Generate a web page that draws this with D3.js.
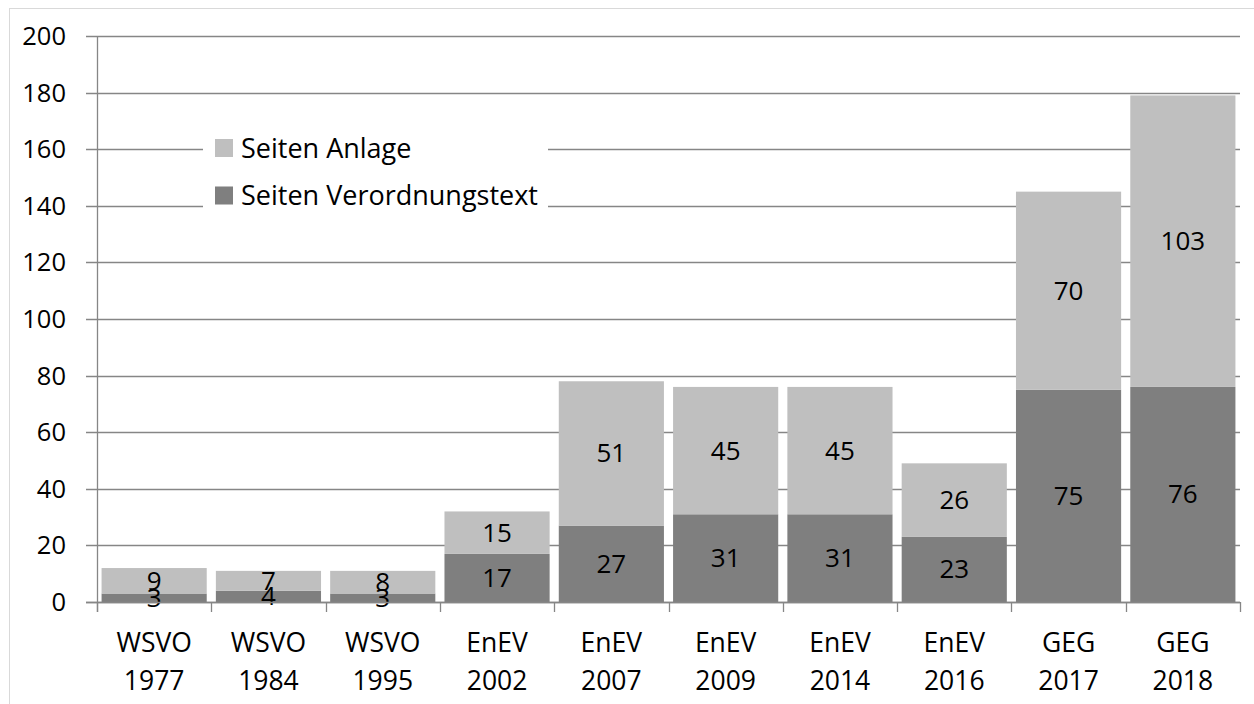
<!DOCTYPE html>
<html><head><meta charset="utf-8">
<script src="https://cdn.jsdelivr.net/npm/d3@7/dist/d3.min.js"></script>
<style>body{margin:0;background:#fff;}svg{display:block;font-family:"Open Sans",sans-serif;}</style>
</head><body>
<svg id="c" width="1254" height="704"></svg>
<script>
const categories = [["WSVO","1977"],["WSVO","1984"],["WSVO","1995"],["EnEV","2002"],["EnEV","2007"],["EnEV","2009"],["EnEV","2014"],["EnEV","2016"],["GEG","2017"],["GEG","2018"]];
const verordnung = [3,4,3,17,27,31,31,23,75,76];
const anlage = [9,7,8,15,51,45,45,26,70,103];
const yTicks = [0,20,40,60,80,100,120,140,160,180,200];
const seriesNames = ["Seiten Anlage","Seiten Verordnungstext"];

(function(){
const svg = d3.select("#c");
const colDark = "#7f7f7f", colLight = "#bfbfbf", gridCol = "#868686";
const pLeft = 97, pRight = 1240, pTop = 36, pBottom = 602;

svg.append("rect").attr("x",9.5).attr("y",8.5).attr("width",1250).attr("height",705)
  .attr("fill","#fff").attr("stroke","#d9d9d9");

const keys = categories.map(c => c.join(" "));
const x = d3.scaleBand().domain(keys).range([pLeft,pRight]).paddingInner(0.08).paddingOuter(0.04);
const y = d3.scaleLinear().domain([0,200]).range([pBottom,pTop]);

svg.append("g").selectAll("line").data(yTicks).join("line")
  .attr("x1",86).attr("x2",pRight).attr("y1",d=>Math.round(y(d))+0.5).attr("y2",d=>Math.round(y(d))+0.5)
  .attr("stroke",gridCol).attr("stroke-width",1.3);

svg.append("g").selectAll("text").data(yTicks).join("text")
  .attr("x",66).attr("y",d=>y(d)+9).attr("text-anchor","end")
  .attr("font-size",25.5).attr("fill","#000").text(d=>d);

svg.append("line").attr("x1",pLeft+0.5).attr("x2",pLeft+0.5).attr("y1",pTop).attr("y2",pBottom+10)
  .attr("stroke",gridCol).attr("stroke-width",1.3);

const step = (pRight-pLeft)/keys.length;
svg.append("g").selectAll("line").data(d3.range(keys.length+1)).join("line")
  .attr("x1",i=>Math.round(pLeft+i*step)+0.5).attr("x2",i=>Math.round(pLeft+i*step)+0.5)
  .attr("y1",pBottom).attr("y2",pBottom+10).attr("stroke",gridCol).attr("stroke-width",1.3);

const data = keys.map((k,i)=>({k, v:verordnung[i], a:anlage[i]}));
const g = svg.append("g");
g.selectAll(".dark").data(data).join("rect").attr("class","dark")
  .attr("x",d=>x(d.k)).attr("width",x.bandwidth())
  .attr("y",d=>y(d.v)).attr("height",d=>y(0)-y(d.v)).attr("fill",colDark);
g.selectAll(".light").data(data).join("rect").attr("class","light")
  .attr("x",d=>x(d.k)).attr("width",x.bandwidth())
  .attr("y",d=>y(d.v+d.a)).attr("height",d=>y(d.v)-y(d.v+d.a)).attr("fill",colLight);

svg.append("line").attr("x1",86).attr("x2",pRight).attr("y1",pBottom+0.5).attr("y2",pBottom+0.5)
  .attr("stroke",gridCol).attr("stroke-width",1.3);

g.selectAll(".lv").data(data).join("text").attr("class","lv")
  .attr("x",d=>x(d.k)+x.bandwidth()/2).attr("y",d=>y(d.v/2)+9)
  .attr("text-anchor","middle").attr("font-size",26).attr("fill","#000").text(d=>d.v);
g.selectAll(".la").data(data).join("text").attr("class","la")
  .attr("x",d=>x(d.k)+x.bandwidth()/2).attr("y",d=>y(d.v+d.a/2)+9)
  .attr("text-anchor","middle").attr("font-size",26).attr("fill","#000").text(d=>d.a);

const cl = svg.append("g").selectAll("text").data(data).join("text")
  .attr("text-anchor","middle").attr("font-size",26.5).attr("fill","#000");
cl.append("tspan").attr("x",d=>x(d.k)+x.bandwidth()/2).attr("y",652).text((d,i)=>categories[i][0]);
cl.append("tspan").attr("x",d=>x(d.k)+x.bandwidth()/2).attr("y",690).text((d,i)=>categories[i][1]);

const lg = svg.append("g");
lg.append("rect").attr("x",203).attr("y",128).attr("width",345).attr("height",86).attr("fill","#fff");
const lcols = [colLight, colDark];
seriesNames.forEach((n,i)=>{
  const cy = 148 + i*47.5;
  lg.append("rect").attr("x",215).attr("y",cy-9).attr("width",18).attr("height",18).attr("fill",lcols[i]);
  lg.append("text").attr("x",241).attr("y",cy+9.5).attr("font-size",27).attr("fill","#000").text(n);
});
})();
</script>
</body></html>
